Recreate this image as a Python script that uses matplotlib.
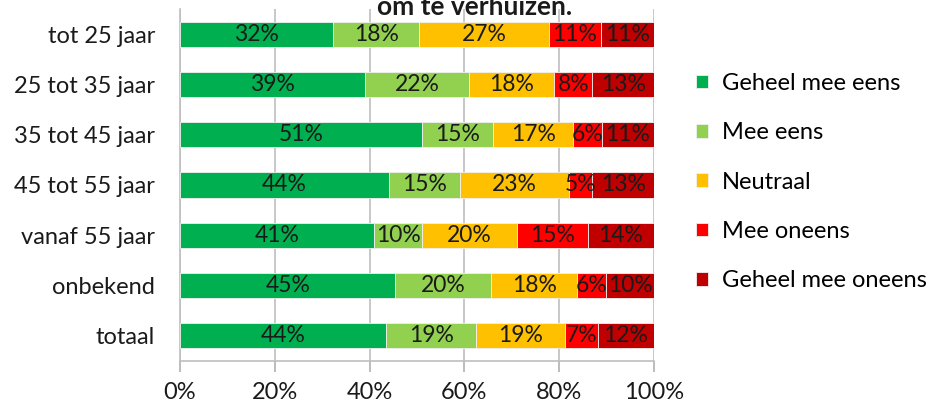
import numpy as np
import matplotlib
matplotlib.use("Agg")
import matplotlib.pyplot as plt

plt.rcParams['font.family'] = ['Lato', 'DejaVu Sans']

categories = ["tot 25 jaar", "25 tot 35 jaar", "35 tot 45 jaar", "45 tot 55 jaar",
              "vanaf 55 jaar", "onbekend", "totaal"]
series = ["Geheel mee eens", "Mee eens", "Neutraal", "Mee oneens", "Geheel mee oneens"]
colors = ["#00B050", "#92D050", "#FFC000", "#FF0000", "#C00000"]

geheel_mee_eens = [32, 39, 51, 44, 41, 45, 44]
mee_eens = [18, 22, 15, 15, 10, 20, 19]
neutraal = [27, 18, 17, 23, 20, 18, 19]
mee_oneens = [11, 8, 6, 5, 15, 6, 7]
geheel_mee_oneens = [11, 13, 11, 13, 14, 10, 12]

values = np.array([geheel_mee_eens, mee_eens, neutraal, mee_oneens, geheel_mee_oneens], dtype=float)
shares = values / values.sum(axis=0)  # 100% stacked

fig = plt.figure(figsize=(9.31, 4.03), dpi=100)
ax = fig.add_axes([0.1933, 0.1042, 0.5092, 0.8735])

y = np.arange(len(categories))
left = np.zeros(len(categories))
for i, name in enumerate(series):
    ax.barh(y, shares[i], left=left, height=0.5, color=colors[i], label=name,
            edgecolor="#f0f0f0", linewidth=0.6, zorder=3)
    for j in range(len(categories)):
        ax.text(left[j] + shares[i][j] / 2, y[j], "%d%%" % values[i][j],
                ha="center", va="center", fontsize=16.5, color="#1a1a1a", zorder=4)
    left += shares[i]

ax.set_ylim(len(categories) - 0.5, -0.5)
ax.set_xlim(0, 1)
ax.set_yticks(y)
ax.set_yticklabels(categories, fontsize=17, color="#1a1a1a")
ax.set_xticks(np.linspace(0, 1, 6))
ax.set_xticklabels(["0%", "20%", "40%", "60%", "80%", "100%"], fontsize=17, color="#1a1a1a")
ax.tick_params(axis="y", length=0, pad=18)
ax.tick_params(axis="x", length=8, color="#b0b0b0", width=1.2, pad=7)
ax.grid(axis="x", color="#bfbfbf", linewidth=1.2, zorder=0)
for s in ["top", "right"]:
    ax.spines[s].set_visible(False)
ax.spines["left"].set_color("#bfbfbf")
ax.spines["left"].set_linewidth(1.2)
ax.spines["bottom"].set_color("#bfbfbf")
ax.spines["bottom"].set_linewidth(1.2)

# title is partly cut off at the top in the original as well
fig.text(0.51, 0.962, "om te verhuizen.", ha="center", va="baseline",
         fontsize=19, fontweight="bold", color="#1a1a1a")

leg = fig.legend(loc="upper left", bbox_to_anchor=(0.725, 0.872), frameon=False,
                 fontsize=17, handlelength=0.5, handleheight=0.5, handletextpad=0.6,
                 labelspacing=1.2)

fig.savefig("out.png", dpi=100)
